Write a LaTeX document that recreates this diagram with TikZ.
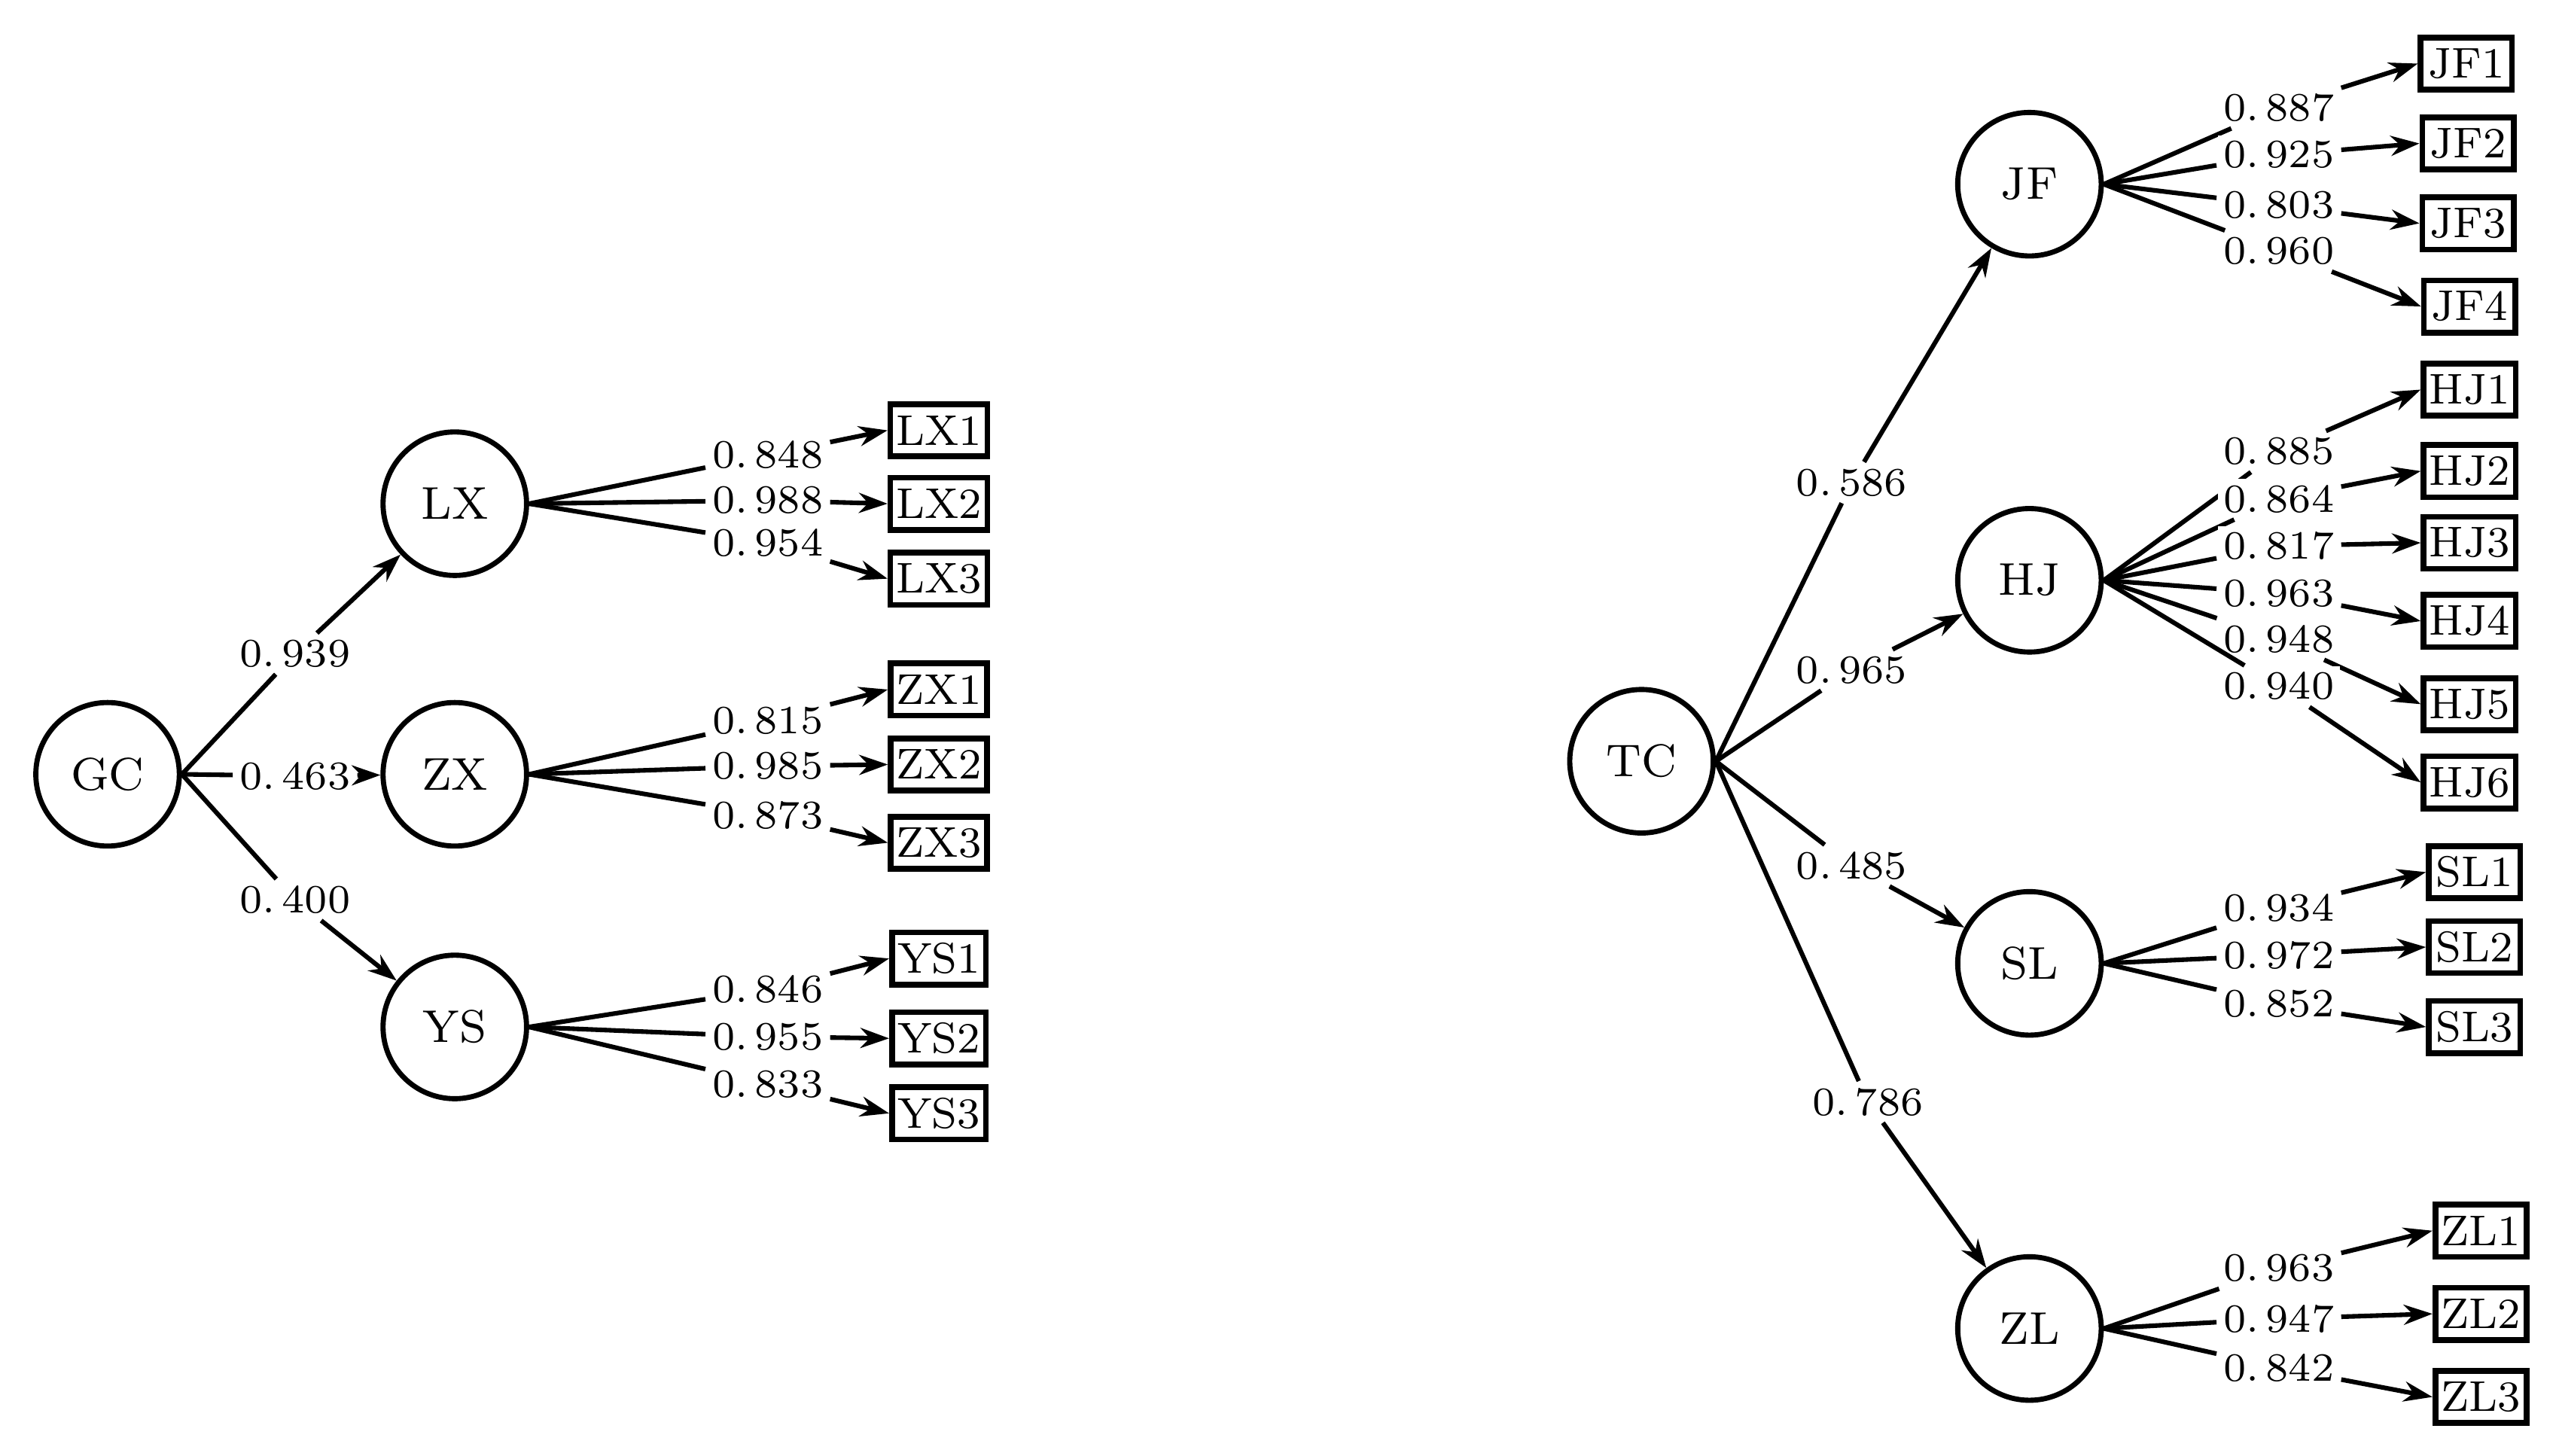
\documentclass[tikz,border=0pt]{standalone}
\usetikzlibrary{arrows.meta}
\begin{document}
\begin{tikzpicture}[x=0.01cm,y=-0.01cm,
 lat/.style={circle,draw,line width=0.9pt,minimum size=0.88cm,inner sep=0pt,font=\fontsize{8}{10}\selectfont},
 obs/.style={draw,line width=1pt,minimum width=0.56cm,minimum height=0.32cm,inner sep=1pt,font=\fontsize{7.5}{9}\selectfont},
 lab/.style={fill=white,inner sep=1pt,font=\fontsize{7}{8}\selectfont},
 ln/.style={line width=0.8pt},
 ar/.style={line width=0.8pt,-{Stealth[length=5pt,width=3.5pt]}}]
\useasboundingbox (0,0) rectangle (1568,893);
% left
\node[lat] (GC) at (66,475) {GC};
\node[lat] (LX) at (279,309) {LX};
\node[lat] (ZX) at (279,475) {ZX};
\node[lat] (YS) at (279,630) {YS};
\node[lab] (g1) at (181,401) {0.\,939};
\node[lab] (g2) at (181,476) {0.\,463};
\node[lab] (g3) at (181,552) {0.\,400};
\foreach \a in {1,2,3} {\draw[ln] (GC.east) -- (g\a);}
\draw[ar] (g1) -- (LX); \draw[ar] (g2) -- (ZX); \draw[ar] (g3) -- (YS);
\foreach \n/\c/\y/\lab/\by in {
 LX/LX1/279/0.\,848/264, LX/LX2/307/0.\,988/309, LX/LX3/333/0.\,954/355,
 ZX/ZX1/442/0.\,815/423, ZX/ZX2/470/0.\,985/469, ZX/ZX3/500/0.\,873/517,
 YS/YS1/607/0.\,846/588, YS/YS2/636/0.\,955/637, YS/YS3/665/0.\,833/683} {
 \node[obs] (\c) at (576,\by) {\c};
 \node[lab] (l\c) at (471,\y) {\lab};
 \draw[ln] (\n.east) -- (l\c);
 \draw[ar] (l\c) -- (\c.west);
}
% right
\node[lat] (TC) at (1007,467) {TC};
\node[lat] (JF) at (1245,113) {JF};
\node[lat] (HJ) at (1245,356) {HJ};
\node[lat] (SL) at (1245,591) {SL};
\node[lat] (ZL) at (1245,815) {ZL};
\node[lab] (t1) at (1136,296) {0.\,586};
\node[lab] (t2) at (1136,411) {0.\,965};
\node[lab] (t3) at (1136,531) {0.\,485};
\node[lab] (t4) at (1146,676) {0.\,786};
\foreach \a in {1,2,3,4} {\draw[ln] (TC.east) -- (t\a);}
\draw[ar] (t1) -- (JF); \draw[ar] (t2) -- (HJ); \draw[ar] (t3) -- (SL); \draw[ar] (t4) -- (ZL);
\foreach \n/\c/\y/\lab/\bx/\by in {
 JF/JF1/66/0.\,887/1513/39, JF/JF2/95/0.\,925/1514/88, JF/JF3/126/0.\,803/1514/137, JF/JF4/154/0.\,960/1515/188,
 HJ/HJ1/277/0.\,885/1515/239, HJ/HJ2/306/0.\,864/1515/289, HJ/HJ3/335/0.\,817/1515/333,
 HJ/HJ4/364/0.\,963/1515/381, HJ/HJ5/392/0.\,948/1515/432, HJ/HJ6/421/0.\,940/1515/480,
 SL/SL1/557/0.\,934/1518/535, SL/SL2/586/0.\,972/1518/581, SL/SL3/616/0.\,852/1518/630,
 ZL/ZL1/778/0.\,963/1522/755, ZL/ZL2/809/0.\,947/1522/806, ZL/ZL3/839/0.\,842/1522/857} {
 \node[obs] (\c) at (\bx,\by) {\c};
 \node[lab] (l\c) at (1398,\y) {\lab};
 \draw[ln] (\n.east) -- (l\c);
 \draw[ar] (l\c) -- (\c.west);
}
\end{tikzpicture}
\end{document}
